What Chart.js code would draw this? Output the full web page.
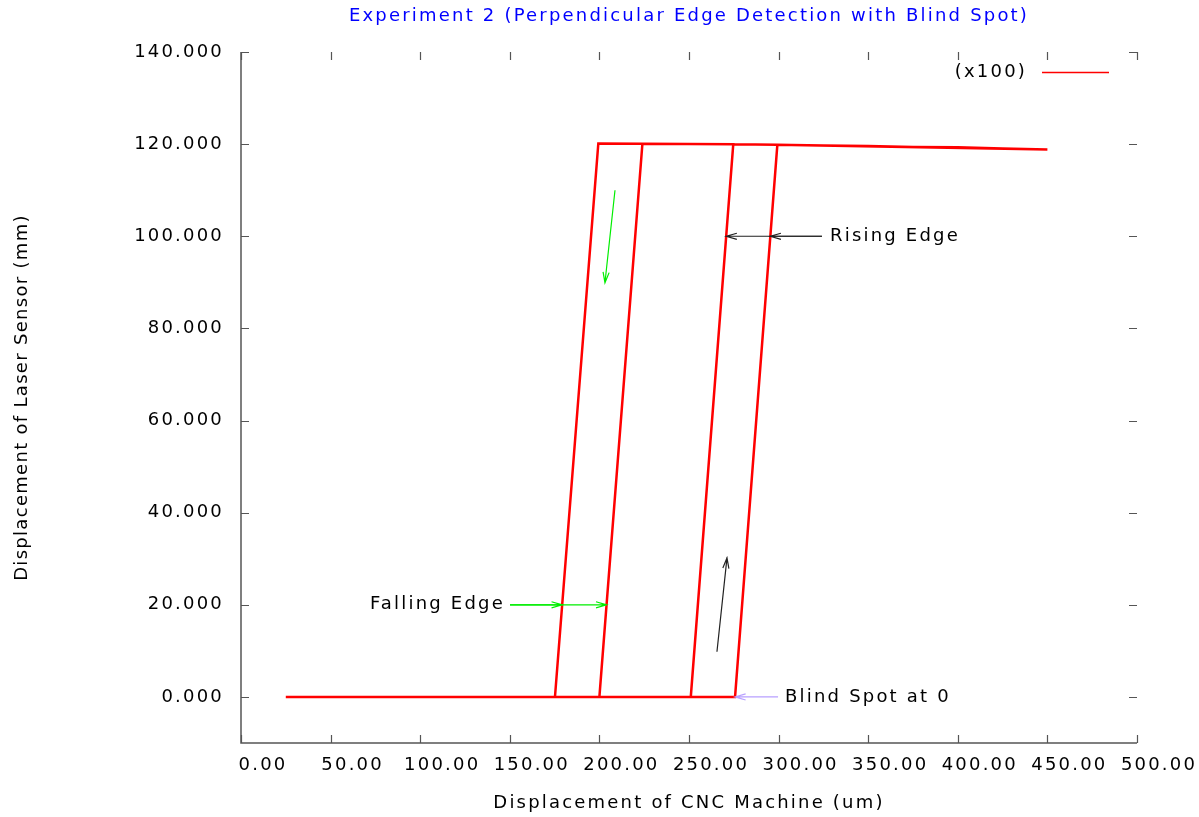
<!DOCTYPE html>
<html>
<head>
<meta charset="utf-8">
<script src="https://cdn.jsdelivr.net/npm/chart.js@4.4.1/dist/chart.umd.min.js"></script>
<style>
  html, body { margin: 0; padding: 0; background: #fff; }
</style>
</head>
<body>
<canvas id="edgeChart" width="1199" height="817"></canvas>
<script>
const chartTitle = 'Experiment 2 (Perpendicular Edge Detection with Blind Spot)';
const xTitle = 'Displacement of CNC Machine (um)';
const yTitle = 'Displacement of Laser Sensor (mm)';
const seriesLabel = '(x100)';

const xTicks = [0, 50, 100, 150, 200, 250, 300, 350, 400, 450, 500];
const yTicks = [0, 20, 40, 60, 80, 100, 120, 140];

// scan path: CNC position (um) vs laser reading (mm), out and back over the edge
const cncUm   = [25, 275.7, 299.3, 325, 350, 375, 400, 425, 450, 299.3, 274.7, 224, 199.4, 175.2, 200, 224, 274.7, 251];
const laserMm = [0, 0, 119.85, 119.7, 119.6, 119.4, 119.3, 119.05, 118.85, 119.85, 120.0, 120.1, 120.15, 0, 0, 120.1, 120.0, 0];

// arrows: [x1, y1, x2, y2] in data units, head at (x2, y2)
const fallingArrows = [[150.1, 20, 179.2, 20], [150.1, 20, 204, 20]];
const risingArrows  = [[324.2, 100, 295.4, 100], [324.2, 100, 270.8, 100]];
const downArrow = [208.7, 110, 203.1, 89.9];
const upArrow   = [265.6, 9.8, 271.2, 30.2];
const blindArrow = [299.7, 0, 275.7, 0];

// text labels: [text, x, y, align]
const notes = [
  ['Falling Edge', 147.3, 20, 'right'],
  ['Rising Edge', 328.7, 100, 'left'],
  ['Blind Spot at 0', 303.6, 0, 'left'],
];

const FONT = '"DejaVu Sans", sans-serif';
const SPACING = '2.2px';
const INK = '#000';

function arrow(ctx, xs, ys, a, color) {
  const x1 = xs.getPixelForValue(a[0]), y1 = ys.getPixelForValue(a[1]);
  const x2 = xs.getPixelForValue(a[2]), y2 = ys.getPixelForValue(a[3]);
  const ang = Math.atan2(y2 - y1, x2 - x1);
  const len = 11, spread = 0.28;
  ctx.strokeStyle = color;
  ctx.lineWidth = 1.2;
  ctx.beginPath();
  ctx.moveTo(x1, y1);
  ctx.lineTo(x2, y2);
  ctx.moveTo(x2 - len * Math.cos(ang - spread), y2 - len * Math.sin(ang - spread));
  ctx.lineTo(x2, y2);
  ctx.lineTo(x2 - len * Math.cos(ang + spread), y2 - len * Math.sin(ang + spread));
  ctx.stroke();
}

const gnuplotFrame = {
  id: 'gnuplotFrame',
  beforeUpdate(chart) { chart.ctx.letterSpacing = SPACING; },
  beforeDraw(chart) { chart.ctx.letterSpacing = SPACING; },
  beforeDatasetsDraw(chart) {
    const { ctx, chartArea: a, scales: { x, y } } = chart;
    ctx.save();
    ctx.strokeStyle = '#555';
    ctx.lineWidth = 1.5;
    ctx.beginPath();
    ctx.moveTo(a.left, a.top);
    ctx.lineTo(a.left, a.bottom);
    ctx.lineTo(a.right, a.bottom);
    ctx.stroke();
    // inward ticks, mirrored on top and right
    ctx.lineWidth = 1.2;
    ctx.beginPath();
    xTicks.forEach(v => {
      const px = Math.round(x.getPixelForValue(v)) + 0.5;
      ctx.moveTo(px, a.bottom); ctx.lineTo(px, a.bottom - 8);
      ctx.moveTo(px, a.top); ctx.lineTo(px, a.top + 8);
    });
    yTicks.forEach(v => {
      const py = Math.round(y.getPixelForValue(v)) + 0.5;
      ctx.moveTo(a.left, py); ctx.lineTo(a.left + 8, py);
      ctx.moveTo(a.right, py); ctx.lineTo(a.right - 8, py);
    });
    ctx.stroke();

    // y axis title, a little tighter than the other text
    ctx.letterSpacing = '1.3px';
    ctx.font = '18px ' + FONT;
    ctx.fillStyle = INK;
    ctx.textAlign = 'center';
    ctx.textBaseline = 'middle';
    ctx.translate(22, (a.top + a.bottom) / 2);
    ctx.rotate(-Math.PI / 2);
    ctx.fillText(yTitle, 0, 0);
    ctx.restore();
  },
  afterDatasetsDraw(chart) {
    const { ctx, chartArea: a, scales: { x, y } } = chart;
    ctx.save();
    ctx.letterSpacing = SPACING;
    fallingArrows.forEach(r => arrow(ctx, x, y, r, '#00ee00'));
    arrow(ctx, x, y, downArrow, '#00ee00');
    risingArrows.forEach(r => arrow(ctx, x, y, r, '#222'));
    arrow(ctx, x, y, upArrow, '#222');
    arrow(ctx, x, y, blindArrow, '#b8a0ff');

    ctx.font = '18px ' + FONT;
    ctx.fillStyle = INK;
    ctx.textBaseline = 'middle';
    notes.forEach(([t, vx, vy, al]) => {
      ctx.textAlign = al;
      ctx.fillText(t, x.getPixelForValue(vx), y.getPixelForValue(vy));
    });

    // legend
    const ly = 72;
    ctx.textAlign = 'right';
    ctx.fillText(chart.data.datasets[0].label, 1027, ly);
    ctx.strokeStyle = '#ff0000';
    ctx.lineWidth = 1.5;
    ctx.beginPath();
    ctx.moveTo(1042, ly + 0.5);
    ctx.lineTo(1109, ly + 0.5);
    ctx.stroke();

    // title, centred over the plot area
    ctx.fillStyle = '#0000ff';
    ctx.textAlign = 'center';
    ctx.fillText(chartTitle, (a.left + a.right) / 2, 16);
    ctx.restore();
  }
};

new Chart(document.getElementById('edgeChart'), {
  type: 'line',
  data: {
    datasets: [{
      label: seriesLabel,
      data: cncUm.map((v, i) => ({ x: v, y: laserMm[i] })),
      borderColor: '#ff0000',
      borderWidth: 2.5,
      pointRadius: 0,
      tension: 0,
      fill: false,
    }],
  },
  options: {
    responsive: false,
    animation: false,
    layout: { padding: { top: 52, right: 62, left: 0, bottom: 0 } },
    plugins: {
      legend: { display: false },
      title: { display: false },
      tooltip: { enabled: false },
    },
    scales: {
      x: {
        type: 'linear',
        min: 0,
        max: 500,
        afterBuildTicks: s => { s.ticks = xTicks.map(v => ({ value: v })); },
        afterFit: s => { s.height = 74; },
        grid: { display: false, drawTicks: false },
        border: { display: false },
        ticks: {
          color: INK,
          font: { family: FONT, size: 18 },
          padding: 12,
          labelOffset: 22,
          maxRotation: 0,
          callback: v => Number(v).toFixed(2),
        },
        title: {
          display: true,
          text: xTitle,
          color: INK,
          font: { family: FONT, size: 18 },
          padding: { top: 0, bottom: 3 },
        },
      },
      y: {
        type: 'linear',
        min: -10,
        max: 140,
        afterBuildTicks: s => { s.ticks = yTicks.map(v => ({ value: v })); },
        afterFit: s => { s.width = 241; },
        grid: { display: false, drawTicks: false },
        border: { display: false },
        ticks: {
          color: INK,
          font: { family: FONT, size: 18 },
          padding: 17,
          callback: v => Number(v).toFixed(3),
        },
      },
    },
  },
  plugins: [gnuplotFrame],
});
</script>
</body>
</html>
